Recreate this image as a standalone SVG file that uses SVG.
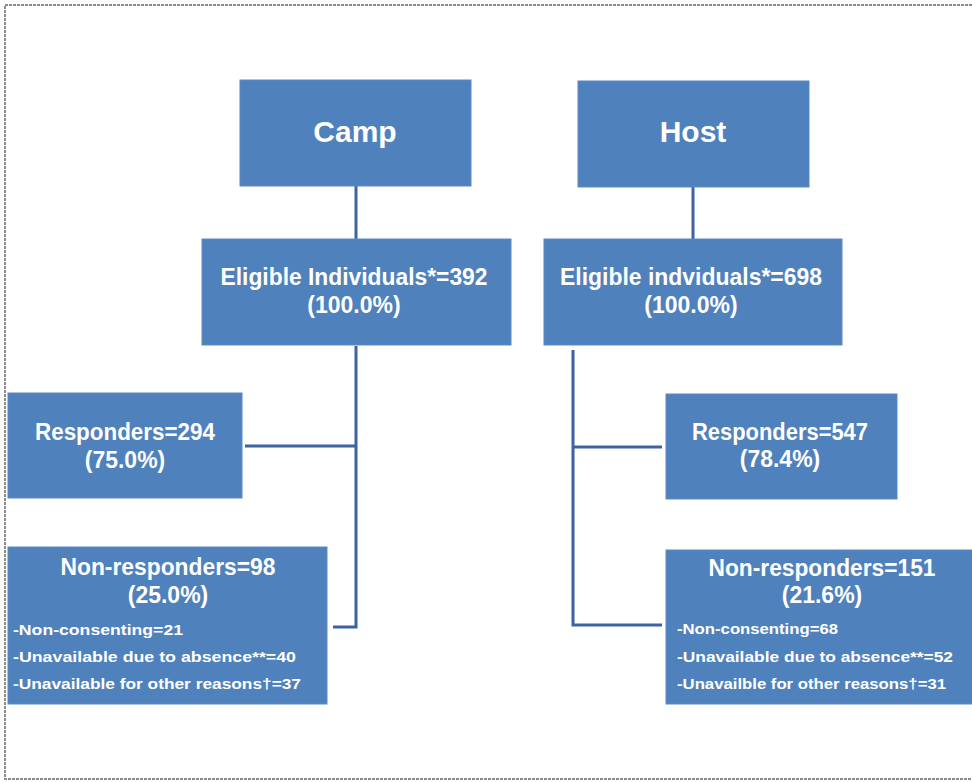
<svg xmlns="http://www.w3.org/2000/svg" width="972" height="782" viewBox="0 0 972 782">
  <style>
    .box { fill: #4f81bd; stroke: #5a8ac6; stroke-width: 1; }
    .t { font-family: "Liberation Sans", Arial, sans-serif; font-weight: bold; fill: #ffffff; text-anchor: middle; }
    .big { font-size: 30px; }
    .mid { font-size: 23px; }
    .sm { font-family: "Liberation Sans", Arial, sans-serif; font-weight: bold; fill: #ffffff; font-size: 15.5px; }
    .conn { stroke: #3f63a0; stroke-width: 3; fill: none; }
    .frame { stroke: #8a8a8a; stroke-width: 2; fill: none; stroke-dasharray: 3 1; }
  </style>
  <rect x="0" y="0" width="972" height="782" fill="#ffffff"/>
  <path class="frame" d="M972,5 L5,5 L5,779 L972,779"/>

  <g id="connectors">
    <line class="conn" x1="356" y1="186" x2="356" y2="239"/>
    <line class="conn" x1="693" y1="187" x2="693" y2="239"/>
    <polyline class="conn" points="356,346 356,627 333,627"/>
    <line class="conn" x1="245" y1="446" x2="356" y2="446"/>
    <polyline class="conn" points="573,350 573,625 662,625"/>
    <line class="conn" x1="573" y1="447" x2="662" y2="447"/>
  </g>

  <g id="camp">
    <rect class="box" x="240" y="80" width="231" height="106"/>
    <text class="t big" x="355" y="142">Camp</text>
  </g>
  <g id="host">
    <rect class="box" x="578" y="81" width="231" height="106"/>
    <text class="t big" x="693" y="142">Host</text>
  </g>
  <g id="eligible-camp">
    <rect class="box" x="202" y="239" width="309" height="106"/>
    <text class="t mid" x="354" y="285" textLength="267" lengthAdjust="spacingAndGlyphs">Eligible Individuals*=392</text>
    <text class="t mid" x="354" y="313">(100.0%)</text>
  </g>
  <g id="eligible-host">
    <rect class="box" x="544" y="239" width="298" height="106"/>
    <text class="t mid" x="691" y="285" textLength="262" lengthAdjust="spacingAndGlyphs">Eligible indviduals*=698</text>
    <text class="t mid" x="691" y="313">(100.0%)</text>
  </g>
  <g id="responders-camp">
    <rect class="box" x="8" y="393" width="234" height="105"/>
    <text class="t mid" x="125" y="440" textLength="180" lengthAdjust="spacingAndGlyphs">Responders=294</text>
    <text class="t mid" x="125" y="468">(75.0%)</text>
  </g>
  <g id="responders-host">
    <rect class="box" x="666" y="394" width="231" height="105"/>
    <text class="t mid" x="780" y="440" textLength="176" lengthAdjust="spacingAndGlyphs">Responders=547</text>
    <text class="t mid" x="780" y="467">(78.4%)</text>
  </g>
  <g id="nonresponders-camp">
    <rect class="box" x="8" y="547" width="319" height="157"/>
    <text class="t mid" x="168" y="575" textLength="215" lengthAdjust="spacingAndGlyphs">Non-responders=98</text>
    <text class="t mid" x="168" y="603">(25.0%)</text>
    <text class="sm" x="13" y="635" textLength="170" lengthAdjust="spacingAndGlyphs">-Non-consenting=21</text>
    <text class="sm" x="13" y="662" textLength="283" lengthAdjust="spacingAndGlyphs">-Unavailable due to absence**=40</text>
    <text class="sm" x="13" y="689" textLength="288" lengthAdjust="spacingAndGlyphs">-Unavailable for other reasons†=37</text>
  </g>
  <g id="nonresponders-host">
    <rect class="box" x="666" y="550" width="310" height="154"/>
    <text class="t mid" x="822" y="576" textLength="227" lengthAdjust="spacingAndGlyphs">Non-responders=151</text>
    <text class="t mid" x="822" y="603">(21.6%)</text>
    <text class="sm" x="677" y="634" textLength="161" lengthAdjust="spacingAndGlyphs">-Non-consenting=68</text>
    <text class="sm" x="677" y="662" textLength="276" lengthAdjust="spacingAndGlyphs">-Unavailable due to absence**=52</text>
    <text class="sm" x="677" y="689" textLength="269" lengthAdjust="spacingAndGlyphs">-Unavailble for other reasons†=31</text>
  </g>
</svg>
